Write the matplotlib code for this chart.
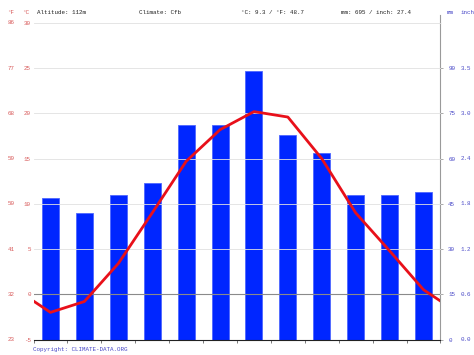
import matplotlib
matplotlib.use("Agg")
import matplotlib.pyplot as plt
import matplotlib.transforms as mtransforms

# climate data
months = ['01', '02', '03', '04', '05', '06', '07', '08', '09', '10', '11', '12']
precip_mm = [47, 42, 48, 52, 71, 71, 89, 68, 62, 48, 48, 49]
temp_c = [-2.0, -0.8, 3.4, 9.0, 14.7, 18.2, 20.2, 19.6, 15.0, 9.0, 4.8, 0.5]

c_ticks = [-5, 0, 5, 10, 15, 20, 25, 30]
f_labels = ['23', '32', '41', '50', '59', '68', '77', '86']
mm_ticks = [0, 15, 30, 45, 60, 75, 90]
inch_labels = ['0.0', '0.6', '1.2', '1.8', '2.4', '3.0', '3.5']

header = ['Altitude: 112m', 'Climate: Cfb', '°C: 9.3 / °F: 48.7', 'mm: 695 / inch: 27.4']

red_txt = '#d85a5a'
blue_txt = '#4a4ac8'
font = 'Liberation Mono'
fs = 4.2

fig = plt.figure(figsize=(4.74, 3.55), dpi=100)
ax2 = fig.add_axes([33.5 / 474, 15.5 / 355, 407 / 474, 316.5 / 355])
ax = ax2.twinx()
ax.set_zorder(ax2.get_zorder() + 1)
ax.patch.set_visible(False)

x = list(range(len(months)))

# precipitation bars
ax2.bar(x, precip_mm, width=0.5, color='#0026ff', edgecolor='#4d66ff', linewidth=0.6, zorder=2)
ax2.set_ylim(0, 105)
ax2.set_xlim(-0.5, 11.5)

# temperature line, wrapped to the edges
edge = (temp_c[0] + temp_c[-1]) / 2
ax.plot([-0.5] + x + [11.5], [edge] + temp_c + [edge], color='#e8101a', linewidth=2.0, zorder=5,
        solid_joinstyle='round')
ax.set_ylim(-5, 30)

# grid
for t in c_ticks[1:]:
    ax.axhline(t, color='#e0e0e0', linewidth=0.6, zorder=0, clip_on=False)
ax.axhline(0, color='#8a8a8a', linewidth=0.8, zorder=1)

# left axis: temperature
ax.yaxis.tick_left()
ax.set_yticks(c_ticks)
ax.set_yticklabels([str(t) for t in c_ticks], fontsize=fs, color=red_txt, family=font)
ax.tick_params(axis='y', length=0, pad=2)
trans_l = mtransforms.blended_transform_factory(fig.transFigure, ax.transData)
for t, f in zip(c_ticks, f_labels):
    ax.text(11 / 474, t, f, transform=trans_l, fontsize=fs, color=red_txt, family=font,
            ha='center', va='center')

# right axis: precipitation
ax2.yaxis.tick_right()
ax2.set_yticks(mm_ticks)
ax2.set_yticklabels([str(m) for m in mm_ticks], fontsize=fs, color=blue_txt, family=font)
ax2.tick_params(axis='y', length=2.5, width=0.5, color='#888888', pad=3)
for lbl in ax2.get_yticklabels():
    lbl.set_horizontalalignment('left')
trans_r = mtransforms.blended_transform_factory(fig.transFigure, ax2.transData)
for m, i in zip(mm_ticks, inch_labels):
    ax2.text(461 / 474, m, i, transform=trans_r, fontsize=fs, color=blue_txt, family=font,
             ha='left', va='center')

# x axis
ax2.set_xticks(x)
ax2.set_xticklabels(months, fontsize=fs, family=font, color='#333333')
ax2.set_xticks([i - 0.5 for i in x] + [11.5], minor=True)
ax2.tick_params(axis='x', which='major', length=0, pad=3.5)
ax2.tick_params(axis='x', which='minor', length=2, width=0.5, color='#444444')
ax.set_xticks([])

for a in (ax, ax2):
    for side in ('top', 'left', 'right', 'bottom'):
        a.spines[side].set_visible(False)
ax2.spines['bottom'].set_visible(True)
ax2.spines['bottom'].set_color('#222222')
ax2.spines['bottom'].set_linewidth(0.8)
ax2.spines['right'].set_visible(True)
ax2.spines['right'].set_color('#9a9a9a')
ax2.spines['right'].set_linewidth(0.8)
ax2.plot([1, 1], [1, 1.026], transform=ax2.transAxes, color='#9a9a9a', linewidth=0.8, clip_on=False)

# header row
fig.text(11 / 474, 1 - 13 / 355, '°F', fontsize=fs, color=red_txt, family=font, ha='center', va='center')
fig.text(26 / 474, 1 - 13 / 355, '°C', fontsize=fs, color=red_txt, family=font, ha='center', va='center')
for xp, s in zip([37, 139, 241, 341], header):
    fig.text(xp / 474, 1 - 13 / 355, s, fontsize=fs, color='#222222', family=font, ha='left', va='center')
fig.text(447 / 474, 1 - 13 / 355, 'mm', fontsize=fs, color=blue_txt, family=font, ha='left', va='center')
fig.text(461 / 474, 1 - 13 / 355, 'inch', fontsize=fs, color=blue_txt, family=font, ha='left', va='center')

fig.text(33 / 474, 1 - 350 / 355, 'Copyright: CLIMATE-DATA.ORG', fontsize=fs, color=blue_txt,
         family=font, ha='left', va='center')

fig.savefig('out.png', dpi=100)
